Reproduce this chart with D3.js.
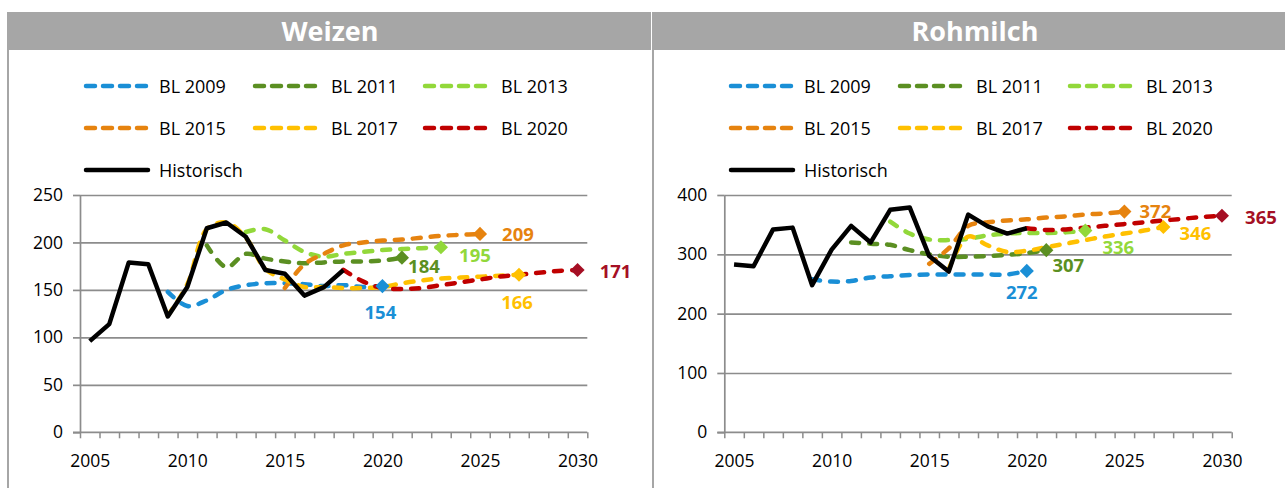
<!DOCTYPE html>
<html><head><meta charset="utf-8">
<script src="https://cdn.jsdelivr.net/npm/d3@7"></script>
<style>
body{margin:0;background:#fff}
svg{display:block}
text{font-family:"Open Sans",Lato,sans-serif}
</style>
</head><body>
<svg id="c" width="1285" height="488"></svg>
<script>
// ---------- categories & labels ----------
const years = [2005,2006,2007,2008,2009,2010,2011,2012,2013,2014,2015,2016,2017,2018,2019,2020,2021,2022,2023,2024,2025,2026,2027,2028,2029,2030];
const yearTickLabels = [2005,2010,2015,2020,2025,2030];
const seriesNames = ["BL 2009","BL 2011","BL 2013","BL 2015","BL 2017","BL 2020","Historisch"];
const panelTitles = ["Weizen","Rohmilch"];
const weizenYTicks = [0,50,100,150,200,250];
const rohmilchYTicks = [0,100,200,300,400];

// ---------- Weizen ----------
const weizenStarts = [2009,2011,2013,2015,2009,2018,2005];
const weizenBL2009 = [148,133,139,150,155,157,157,156,154,155,153,154];
const weizenBL2011 = [197,174,188,183,180,178,179,180,180,181,184];
const weizenBL2013 = [211,214,202,190,185,188,190,192,193,194,195];
const weizenBL2015 = [152,177,188,197,200,202,203,205,207,208,209];
const weizenBL2017 = [123,156,214,221,205,172,161,153,153,152,152,153,157,160,162,163,164,165,166];
const weizenBL2020 = [171,159,152,151,152,155,158,161,164,166,168,170,171];
const weizenHist   = [96,114,179,177,122,153,215,221,206,171,167,144,153,171];
const weizenEndLabels = ["154","184","195","209","166","171"];

// ---------- Rohmilch ----------
const rohmilchStarts = [2009,2011,2013,2015,2016,2020,2005];
const rohmilchBL2009 = [258,254,255,261,263,265,266,266,266,266,266,272];
const rohmilchBL2011 = [320,318,316,307,300,296,296,297,299,302,307];
const rohmilchBL2013 = [355,335,325,324,326,332,335,336,336,337,340];
const rohmilchBL2015 = [284,310,348,354,357,359,362,364,367,369,372];
const rohmilchBL2017 = [275,330,315,304,306,312,318,324,330,335,340,346];
const rohmilchBL2020 = [344,341,342,345,348,351,354,357,360,363,365];
const rohmilchHist   = [283,280,342,345,248,308,348,320,375,379,297,271,367,347,335,344];
const rohmilchEndLabels = ["272","307","336","372","346","365"];

// ---------- styling ----------
const lineColors   = ["#1A8FD6","#5B8F22","#92D83A","#E6830F","#FFC000","#C00000","#000000"];
const markerColors = ["#1A8FD6","#5B8F22","#92D83A","#E6830F","#FFC000","#A50F24"];
const weizenLabelOffsets   = [[-2,26],[22,9],[34,8],[38,1],[-2,28],[38,2]];
const rohmilchLabelOffsets = [[-5,22],[22,15],[33,17],[31,0],[32,6],[39,2]];

const svg = d3.select("#c");
const GRID = "#8C8C8C";

function toPoints(start, vals){ return vals.map((v,i)=>({year:start+i, v})); }

function drawPanel(p){
  const g = svg.append("g");
  // header & border
  g.append("rect").attr("x",p.hx0).attr("y",12).attr("width",p.hx1-p.hx0).attr("height",38).attr("fill","#A6A6A6");
  g.append("line").attr("x1",p.bx).attr("x2",p.bx).attr("y1",12).attr("y2",488).attr("stroke","#A6A6A6").attr("stroke-width",2);
  g.append("text").attr("x",p.titleX).attr("y",41).attr("text-anchor","middle")
    .attr("fill","#fff").attr("font-weight","bold").attr("font-size",27).text(p.title);

  const x = d3.scaleLinear().domain([years[0]-0.5, years[years.length-1]+0.5]).range([p.x0,p.x1]);
  const y = d3.scaleLinear().domain([0,p.yMax]).range([432.3,195]);

  // gridlines
  g.append("g").attr("transform",`translate(${p.x0},0)`)
    .call(d3.axisLeft(y).tickValues(p.yTicks.filter(t=>t>0)).tickSize(-(p.x1-p.x0)).tickFormat(""))
    .call(s=>{s.select(".domain").remove(); s.selectAll("line").attr("stroke",GRID).attr("stroke-width",1.7);});
  // y axis
  g.append("g").attr("transform",`translate(${p.x0},0)`)
    .call(d3.axisLeft(y).tickValues(p.yTicks).tickSizeInner(7).tickSizeOuter(0).tickPadding(10))
    .call(s=>{s.select(".domain").attr("stroke",GRID).attr("stroke-width",1.7);
      s.selectAll("line").attr("stroke",GRID).attr("stroke-width",1.7);
      s.selectAll("text").attr("font-size",17.5).attr("fill","#000").attr("font-family","'Open Sans',sans-serif");});
  // x axis ticks at category boundaries
  const bounds = years.map(yv=>yv-0.5).concat([years[years.length-1]+0.5]);
  g.append("g").attr("transform",`translate(0,${y(0)})`)
    .call(d3.axisBottom(x).tickValues(bounds).tickSizeInner(6).tickSizeOuter(0).tickFormat(""))
    .call(s=>{s.select(".domain").attr("stroke",GRID).attr("stroke-width",1.7).attr("d",`M${p.x0-7},0H${p.x1}`);
      s.selectAll("line").attr("stroke",GRID).attr("stroke-width",1.5);});
  g.append("g").attr("transform",`translate(0,${y(0)})`)
    .call(d3.axisBottom(x).tickValues(yearTickLabels).tickSize(0).tickPadding(22).tickFormat(d3.format("d")))
    .call(s=>{s.select(".domain").remove();
      s.selectAll("text").attr("font-size",17.5).attr("fill","#000").attr("font-family","'Open Sans',sans-serif");});

  // series
  const smooth = d3.line().x(d=>x(d.year)).y(d=>y(d.v)).curve(d3.curveCatmullRom.alpha(0.5));
  const straight = d3.line().x(d=>x(d.year)).y(d=>y(d.v));
  p.series.forEach((vals,i)=>{
    const pts = toPoints(p.starts[i], vals);
    const isHist = i===6;
    g.append("path").attr("d",(isHist?straight:smooth)(pts)).attr("fill","none")
      .attr("stroke",lineColors[i]).attr("stroke-width",isHist?4.5:4.5)
      .attr("stroke-linecap",isHist?"butt":"round").attr("stroke-linejoin","round")
      .attr("stroke-dasharray",isHist?null:"8,10");
  });
  // markers & labels
  p.series.slice(0,6).forEach((vals,i)=>{
    const last = {year:p.starts[i]+vals.length-1, v:vals[vals.length-1]};
    const cx = x(last.year), cy = y(last.v);
    g.append("path").attr("d",d3.symbol(d3.symbolSquare,100)())
      .attr("transform",`translate(${cx},${cy}) rotate(45)`).attr("fill",markerColors[i]);
    const [dx,dy] = p.labelOffsets[i];
    g.append("text").attr("x",cx+dx).attr("y",cy+dy+6.5).attr("text-anchor","middle")
      .attr("font-size",18.5).attr("font-weight","bold").attr("fill",markerColors[i]).text(p.endLabels[i]);
  });

  // legend
  const colLine = [[p.lx,p.lx+66],[p.lx+169,p.lx+238],[p.lx+339,p.lx+408]];
  const rowY = [86,128,170];
  seriesNames.forEach((name,i)=>{
    const r = Math.floor(i/3), c = i%3;
    const [a,b] = colLine[c];
    const isHist = i===6;
    g.append("line").attr("x1",a+2).attr("x2",b-2).attr("y1",rowY[r]).attr("y2",rowY[r])
      .attr("stroke",lineColors[i]).attr("stroke-width",4.5).attr("stroke-linecap","round")
      .attr("stroke-dasharray",isHist?null:"9,8");
    g.append("text").attr("x",b+9).attr("y",rowY[r]+6.5).attr("font-size",18).attr("fill","#000").text(name);
  });
}

drawPanel({title:panelTitles[0], hx0:8, hx1:651, bx:8, titleX:330,
  x0:80, x1:587.3, yMax:250, yTicks:weizenYTicks, lx:84,
  starts:weizenStarts,
  series:[weizenBL2009,weizenBL2011,weizenBL2013,weizenBL2015,weizenBL2017,weizenBL2020,weizenHist],
  endLabels:weizenEndLabels, labelOffsets:weizenLabelOffsets});
drawPanel({title:panelTitles[1], hx0:654, hx1:1285, bx:653, titleX:975,
  x0:724.3, x1:1231.7, yMax:400, yTicks:rohmilchYTicks, lx:729,
  starts:rohmilchStarts,
  series:[rohmilchBL2009,rohmilchBL2011,rohmilchBL2013,rohmilchBL2015,rohmilchBL2017,rohmilchBL2020,rohmilchHist],
  endLabels:rohmilchEndLabels, labelOffsets:rohmilchLabelOffsets});
</script>
</body></html>
